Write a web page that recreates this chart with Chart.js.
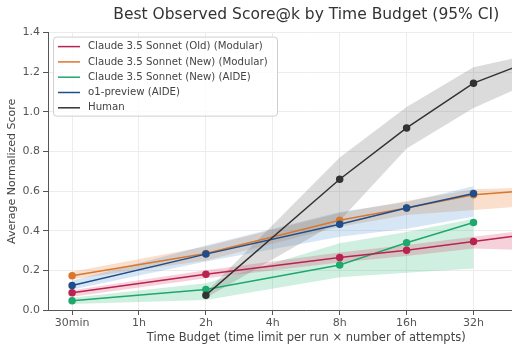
<!DOCTYPE html>
<html>
<head>
<meta charset="utf-8">
<script src="https://cdn.jsdelivr.net/npm/chart.js@4.4.1/dist/chart.umd.min.js"></script>
<style>
  body { margin: 0; background: #fff; overflow: hidden; }
  #wrap { width: 512px; height: 353px; overflow: hidden; }
</style>
</head>
<body>
<div id="wrap"><canvas id="c" width="570" height="353"></canvas></div>
<script>
// time budgets (the last one is cut off at the right edge of the picture)
const timeLabels = ['30min', '1h', '2h', '4h', '8h', '16h', '32h', '64h'];
const yTicks = [0, 0.2, 0.4, 0.6, 0.8, 1.0, 1.2, 1.4];

// series values, null = no run at that budget
const oldModular   = [0.087, null, 0.180, null, 0.265, 0.302, 0.346, 0.390];
const oldModularLo = [0.067, null, 0.160, null, 0.240, 0.272, 0.310, 0.300];
const oldModularHi = [0.100, null, 0.200, null, 0.290, 0.328, 0.370, 0.410];

const newModular   = [0.173, null, 0.285, null, 0.453, 0.515, 0.582, 0.607];
const newModularLo = [0.155, null, 0.250, null, 0.420, 0.480, 0.505, 0.530];
const newModularHi = [0.193, null, 0.320, null, 0.490, 0.550, 0.610, 0.620];

const newAide   = [0.047, null, 0.104, null, 0.227, 0.339, 0.442, null];
const newAideLo = [0.030, null, 0.050, null, 0.165, 0.188, 0.210, null];
const newAideHi = [0.062, null, 0.135, null, 0.337, 0.394, 0.460, null];

const o1Aide   = [0.124, null, 0.282, null, 0.433, 0.515, 0.588, null];
const o1AideLo = [0.104, null, 0.245, null, 0.370, 0.410, 0.470, null];
const o1AideHi = [0.148, null, 0.325, null, 0.495, 0.545, 0.625, null];

const human   = [null, null, 0.075, null, 0.660, 0.919, 1.145, 1.275];
const humanLo = [null, null, 0.060, null, 0.450, 0.815, 1.020, 1.170];
const humanHi = [null, null, 0.090, null, 0.770, 1.024, 1.225, 1.300];

const FONT = '"DejaVu Sans", sans-serif';

function pts(arr) {
  return arr.map((v, i) => v == null ? null : { x: i, y: v }).filter(p => p);
}

function series(label, color, band, vals, lo, hi, order) {
  return [
    { label: label, data: pts(vals), borderColor: color, backgroundColor: color,
      pointBackgroundColor: color, pointBorderColor: color, pointRadius: 3,
      borderWidth: 1.5, fill: false, order: order, legend: true },
    { label: label + ' lo', data: pts(lo), borderWidth: 0, pointRadius: 0,
      fill: false, order: 20 + order },
    { label: label + ' hi', data: pts(hi), borderWidth: 0, pointRadius: 0,
      fill: '-1', backgroundColor: band, order: 20 + order }
  ];
}

const datasets = [].concat(
  series('Claude 3.5 Sonnet (Old) (Modular)', '#b8234f', 'rgba(215,45,95,0.22)', oldModular, oldModularLo, oldModularHi, 2),
  series('Claude 3.5 Sonnet (New) (Modular)', '#d9772f', 'rgba(232,128,52,0.25)', newModular, newModularLo, newModularHi, 4),
  series('Claude 3.5 Sonnet (New) (AIDE)', '#1fa86c', 'rgba(35,180,115,0.22)', newAide, newAideLo, newAideHi, 3),
  series('o1-preview (AIDE)', '#1f4f8a', 'rgba(70,140,210,0.22)', o1Aide, o1AideLo, o1AideHi, 1),
  series('Human', '#333333', 'rgba(110,110,110,0.25)', human, humanLo, humanHi, 0)
);

// legend box drawn inside the plot, top left
const boxLegend = {
  id: 'boxLegend',
  afterDraw(chart) {
    const ctx = chart.ctx;
    const a = chart.chartArea;
    const items = chart.data.datasets.filter(d => d.legend);
    const x0 = a.left + 5, y0 = a.top + 4, w = 224, h = 79;
    ctx.save();
    ctx.fillStyle = 'rgba(255,255,255,0.85)';
    ctx.strokeStyle = '#cfcfcf';
    ctx.lineWidth = 1;
    ctx.beginPath();
    ctx.roundRect(x0 + 0.5, y0 + 0.5, w, h, 3);
    ctx.fill();
    ctx.stroke();
    ctx.font = '10.2px ' + FONT;
    ctx.textBaseline = 'middle';
    items.forEach((d, i) => {
      const y = y0 + 10 + i * 15.3;
      ctx.strokeStyle = d.borderColor;
      ctx.lineWidth = 1.5;
      ctx.beginPath();
      ctx.moveTo(x0 + 5, y);
      ctx.lineTo(x0 + 27, y);
      ctx.stroke();
      ctx.fillStyle = '#444';
      ctx.fillText(d.label, x0 + 35, y);
    });
    ctx.restore();
  }
};

new Chart(document.getElementById('c'), {
  type: 'line',
  data: { datasets: datasets },
  plugins: [boxLegend],
  options: {
    responsive: false,
    animation: false,
    layout: { padding: { left: 0, right: 5, top: 0, bottom: 0 } },
    elements: { line: { tension: 0 } },
    datasets: { line: { spanGaps: true } },
    plugins: {
      legend: { display: false },
      tooltip: { enabled: false },
      title: {
        display: true,
        fullSize: false,
        text: 'Best Observed Score@k by Time Budget (95% CI)',
        color: '#333',
        font: { family: FONT, size: 15.5, weight: 'normal' },
        padding: { top: 6, bottom: 8 }
      }
    },
    scales: {
      x: {
        type: 'linear',
        min: -0.36,
        max: timeLabels.length - 1 + 0.36,
        afterBuildTicks: s => { s.ticks = timeLabels.map((_, i) => ({ value: i })); },
        afterFit: s => { s.height = 43; },
        ticks: {
          callback: v => timeLabels[v] ?? '',
          color: '#555', font: { family: FONT, size: 11 }, padding: 2,
          maxRotation: 0, autoSkip: false
        },
        grid: { color: '#ececec', tickColor: '#555', tickLength: 5 },
        border: { color: '#555', width: 1 },
        title: {
          display: true,
          text: 'Time Budget (time limit per run \u00d7 number of attempts)',
          color: '#444', font: { family: FONT, size: 11.5 },
          padding: { top: 0, bottom: 8 }
        }
      },
      y: {
        min: 0,
        max: 1.4,
        afterBuildTicks: s => { s.ticks = yTicks.map(v => ({ value: v })); },
        afterFit: s => { s.width = 48; },
        ticks: {
          callback: v => v.toFixed(1),
          color: '#555', font: { family: FONT, size: 11 }, padding: 3
        },
        grid: { color: '#ececec', tickColor: '#555', tickLength: 5 },
        border: { color: '#555', width: 1 },
        title: {
          display: true,
          text: 'Average Normalized Score',
          color: '#444', font: { family: FONT, size: 11 },
          padding: { top: 6, bottom: 0 }
        }
      }
    }
  }
});
</script>
</body>
</html>
